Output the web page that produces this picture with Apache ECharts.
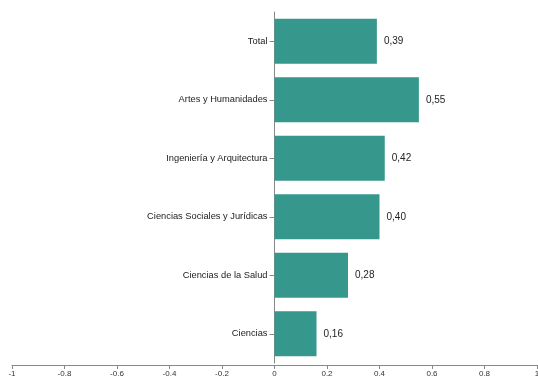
<!DOCTYPE html>
<html>
<head>
<meta charset="utf-8">
<script src="https://cdn.jsdelivr.net/npm/echarts@6/dist/echarts.min.js"></script>
<style>
  html, body { margin: 0; padding: 0; background: #fff; }
  #chart { width: 538px; height: 380px; }
</style>
</head>
<body>
<div id="chart"></div>
<script>
// categories top to bottom
const categories = [
  'Total',
  'Artes y Humanidades',
  'Ingeniería y Arquitectura',
  'Ciencias Sociales y Jurídicas',
  'Ciencias de la Salud',
  'Ciencias'
]
const values = [0.39, 0.55, 0.42, 0.40, 0.28, 0.16]

const xMin = -1
const xMax = 1
const xStep = 0.2

const gridLeft = 12
const gridRight = 1
const chartWidth = 538
// pixel distance from grid left edge to the zero line
const zeroOffset = (chartWidth - gridLeft - gridRight) / 2

const chart = echarts.init(document.getElementById('chart'))

const option = {
  backgroundColor: '#fff',
  animation: false,
  textStyle: { fontFamily: 'Liberation Sans, Arial, sans-serif' },
  grid: {
    left: gridLeft,
    right: gridRight,
    top: 12,
    bottom: 17,
    containLabel: false,
    outerBoundsMode: 'none'
  },
  xAxis: {
    type: 'value',
    min: xMin,
    max: xMax,
    interval: xStep,
    offset: 2,
    splitLine: { show: false },
    axisLine: { show: true, lineStyle: { color: '#888', width: 1 } },
    axisTick: { show: true, length: 4, lineStyle: { color: '#888' } },
    axisLabel: {
      color: '#333',
      fontSize: 8,
      margin: 5,
      formatter: v => String(Math.round(v * 10) / 10)
    }
  },
  yAxis: {
    type: 'category',
    data: categories,
    inverse: true,
    axisLine: { show: true, onZero: true, lineStyle: { color: '#888', width: 1 } },
    axisTick: { show: true, length: 5, alignWithLabel: true, lineStyle: { color: '#888' } },
    // labels sit at the grid edge, pull them in next to the zero line
    axisLabel: { color: '#222', fontSize: 9.3, margin: 7 - zeroOffset }
  },
  series: [
    {
      type: 'bar',
      data: values,
      barWidth: 45,
      itemStyle: { color: '#36978d' },
      label: {
        show: true,
        position: 'right',
        distance: 7,
        color: '#222',
        fontSize: 10,
        formatter: p => p.value.toFixed(2).replace('.', ',')
      }
    }
  ]
}

chart.setOption(option)
</script>
</body>
</html>
